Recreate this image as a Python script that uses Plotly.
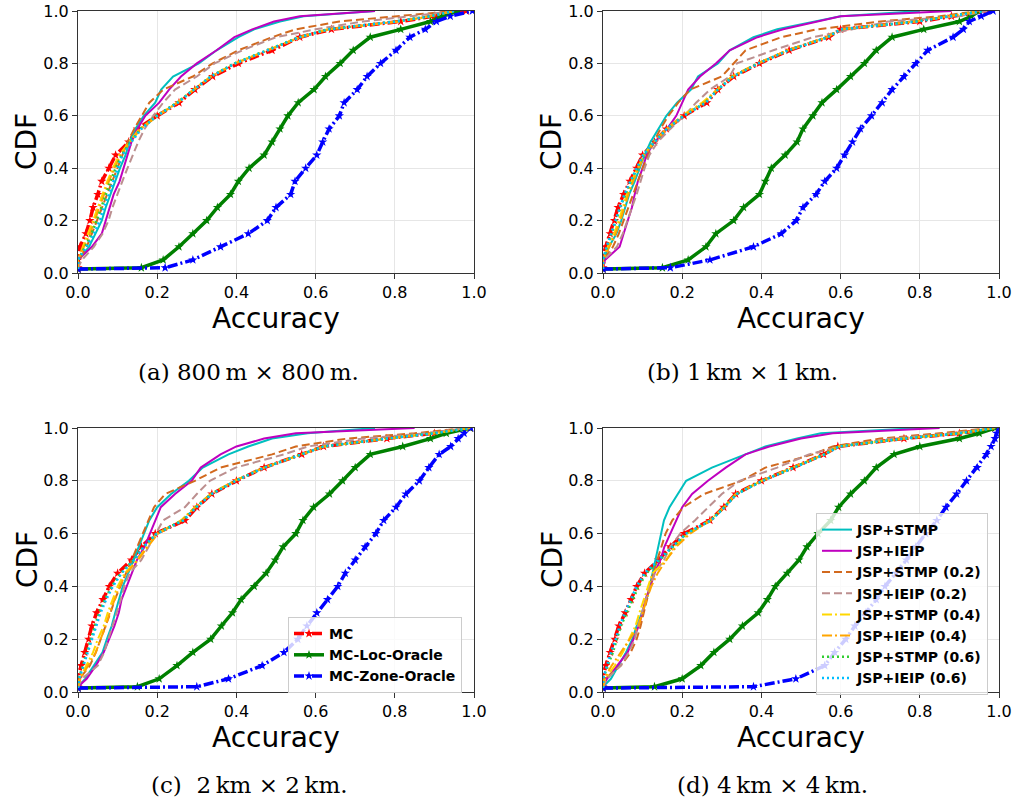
import plotly.graph_objects as go

# CDF levels (y values) shared by every curve
LEVELS = [0.015, 0.02, 0.05, 0.1, 0.15, 0.2, 0.25, 0.3, 0.35, 0.4, 0.45, 0.5, 0.55,
          0.6, 0.65, 0.7, 0.75, 0.8, 0.85, 0.9, 0.93, 0.96, 0.98, 1.0]

SERIES = ["MC", "MC-Loc-Oracle", "MC-Zone-Oracle", "JSP+STMP", "JSP+IEIP",
          "JSP+STMP (0.2)", "JSP+IEIP (0.2)", "JSP+STMP (0.4)", "JSP+IEIP (0.4)",
          "JSP+STMP (0.6)", "JSP+IEIP (0.6)"]

CAPTIONS = ["(a) 800\u2009m × 800\u2009m.", "(b) 1\u2009km × 1\u2009km.",
            "(c)\u00a0 2\u2009km × 2\u2009km.", "(d) 4\u2009km × 4\u2009km."]

TICKS = [0.0, 0.2, 0.4, 0.6, 0.8, 1.0]

# ---- panel (a): accuracy at each CDF level ----
A_MC = [0, 0, 0, 0.005, 0.02, 0.03, 0.038, 0.05, 0.06, 0.078, 0.095, 0.128, 0.15, 0.2, 0.255, 0.295, 0.34, 0.405, 0.49, 0.56, 0.64, 0.815, 0.9, 0.98]
A_LOC = [0, 0.16, 0.215, 0.255, 0.29, 0.325, 0.352, 0.385, 0.405, 0.432, 0.47, 0.49, 0.51, 0.53, 0.556, 0.596, 0.625, 0.662, 0.695, 0.738, 0.815, 0.89, 0.92, 0.96]
A_ZONE = [0, 0.22, 0.29, 0.36, 0.43, 0.478, 0.5, 0.537, 0.548, 0.575, 0.603, 0.618, 0.634, 0.66, 0.672, 0.705, 0.73, 0.764, 0.803, 0.838, 0.877, 0.905, 0.94, 0.996]
A_STMP = [0, 0, 0, 0.028, 0.045, 0.06, 0.07, 0.082, 0.094, 0.106, 0.12, 0.13, 0.145, 0.166, 0.195, 0.21, 0.24, 0.305, 0.35, 0.405, 0.445, 0.51, 0.57, 0.75]
A_IEIP = [0, 0, 0, 0.035, 0.06, 0.07, 0.08, 0.09, 0.105, 0.115, 0.125, 0.135, 0.15, 0.17, 0.205, 0.23, 0.26, 0.3, 0.35, 0.395, 0.44, 0.495, 0.56, 0.75]
A_STMP02 = [0, 0, 0.003, 0.022, 0.035, 0.048, 0.06, 0.072, 0.085, 0.098, 0.112, 0.125, 0.142, 0.16, 0.18, 0.215, 0.29, 0.34, 0.405, 0.49, 0.55, 0.66, 0.8, 0.95]
A_IEIP02 = [0, 0, 0.01, 0.04, 0.062, 0.077, 0.087, 0.099, 0.112, 0.125, 0.138, 0.152, 0.168, 0.19, 0.215, 0.245, 0.3, 0.345, 0.415, 0.5, 0.6, 0.72, 0.84, 0.95]
A_STMP04 = [0, 0, 0, 0.012, 0.026, 0.038, 0.05, 0.062, 0.074, 0.088, 0.104, 0.13, 0.155, 0.2, 0.25, 0.292, 0.335, 0.395, 0.48, 0.56, 0.63, 0.81, 0.89, 0.95]
A_IEIP04 = [0, 0, 0, 0.015, 0.03, 0.042, 0.054, 0.066, 0.078, 0.092, 0.108, 0.132, 0.158, 0.202, 0.252, 0.293, 0.337, 0.398, 0.482, 0.562, 0.635, 0.81, 0.89, 0.95]
A_STMP06 = [0, 0, 0, 0.018, 0.034, 0.047, 0.058, 0.07, 0.082, 0.095, 0.11, 0.133, 0.158, 0.198, 0.25, 0.292, 0.335, 0.395, 0.478, 0.558, 0.63, 0.8, 0.89, 0.95]
A_IEIP06 = [0, 0, 0, 0.022, 0.04, 0.055, 0.065, 0.078, 0.09, 0.1, 0.112, 0.135, 0.16, 0.2, 0.252, 0.293, 0.336, 0.397, 0.48, 0.56, 0.632, 0.805, 0.89, 0.95]

# ---- panel (b) ----
B_MC = [0, 0, 0, 0.007, 0.018, 0.029, 0.038, 0.052, 0.068, 0.085, 0.1, 0.13, 0.16, 0.205, 0.262, 0.29, 0.33, 0.395, 0.47, 0.57, 0.6, 0.8, 0.88, 0.97]
B_LOC = [0, 0.15, 0.215, 0.26, 0.285, 0.33, 0.355, 0.395, 0.41, 0.425, 0.46, 0.49, 0.505, 0.53, 0.553, 0.59, 0.625, 0.66, 0.69, 0.73, 0.81, 0.9, 0.93, 0.95]
B_ZONE = [0, 0.17, 0.27, 0.38, 0.45, 0.488, 0.505, 0.538, 0.56, 0.59, 0.61, 0.63, 0.65, 0.678, 0.705, 0.73, 0.76, 0.79, 0.82, 0.884, 0.91, 0.925, 0.955, 0.985]
B_STMP = [0, 0, 0, 0.015, 0.034, 0.046, 0.056, 0.066, 0.08, 0.092, 0.105, 0.12, 0.14, 0.16, 0.187, 0.222, 0.24, 0.29, 0.32, 0.38, 0.44, 0.54, 0.6, 0.8]
B_IEIP = [0, 0, 0.005, 0.042, 0.052, 0.062, 0.073, 0.08, 0.088, 0.1, 0.11, 0.13, 0.162, 0.185, 0.2, 0.215, 0.245, 0.285, 0.32, 0.39, 0.455, 0.54, 0.6, 0.88]
B_STMP02 = [0, 0, 0, 0.025, 0.04, 0.052, 0.064, 0.075, 0.087, 0.1, 0.114, 0.128, 0.145, 0.165, 0.19, 0.22, 0.3, 0.33, 0.36, 0.45, 0.54, 0.7, 0.85, 0.95]
B_IEIP02 = [0, 0, 0.002, 0.035, 0.05, 0.062, 0.075, 0.085, 0.095, 0.105, 0.117, 0.138, 0.17, 0.205, 0.235, 0.27, 0.32, 0.338, 0.43, 0.53, 0.63, 0.72, 0.9, 0.97]
B_STMP04 = [0, 0, 0, 0.012, 0.028, 0.04, 0.05, 0.06, 0.072, 0.088, 0.103, 0.128, 0.16, 0.2, 0.25, 0.288, 0.325, 0.39, 0.465, 0.565, 0.6, 0.79, 0.87, 0.96]
B_IEIP04 = [0, 0, 0, 0.016, 0.032, 0.044, 0.054, 0.064, 0.076, 0.09, 0.105, 0.13, 0.162, 0.203, 0.255, 0.29, 0.327, 0.392, 0.468, 0.567, 0.6, 0.79, 0.87, 0.96]
B_STMP06 = [0, 0, 0, 0.01, 0.022, 0.033, 0.043, 0.056, 0.07, 0.087, 0.102, 0.13, 0.161, 0.204, 0.258, 0.29, 0.328, 0.392, 0.468, 0.567, 0.6, 0.79, 0.87, 0.96]
B_IEIP06 = [0, 0, 0, 0.009, 0.02, 0.031, 0.041, 0.054, 0.069, 0.086, 0.101, 0.13, 0.161, 0.204, 0.26, 0.29, 0.329, 0.393, 0.469, 0.568, 0.6, 0.795, 0.875, 0.96]

# ---- panel (c) ----
C_MC = [0, 0, 0, 0.008, 0.017, 0.027, 0.035, 0.047, 0.063, 0.079, 0.1, 0.135, 0.16, 0.195, 0.27, 0.3, 0.338, 0.4, 0.47, 0.565, 0.62, 0.78, 0.9, 0.99]
C_LOC = [0, 0.15, 0.205, 0.25, 0.29, 0.335, 0.362, 0.39, 0.412, 0.445, 0.475, 0.498, 0.518, 0.55, 0.568, 0.595, 0.635, 0.668, 0.7, 0.738, 0.82, 0.89, 0.93, 0.99]
C_ZONE = [0, 0.3, 0.38, 0.465, 0.52, 0.555, 0.578, 0.603, 0.63, 0.656, 0.675, 0.7, 0.725, 0.752, 0.772, 0.803, 0.828, 0.862, 0.886, 0.912, 0.941, 0.96, 0.975, 0.992]
C_STMP = [0, 0, 0.018, 0.04, 0.062, 0.073, 0.085, 0.094, 0.104, 0.113, 0.127, 0.14, 0.154, 0.166, 0.18, 0.2, 0.235, 0.28, 0.315, 0.38, 0.43, 0.49, 0.58, 0.75]
C_IEIP = [0, 0, 0.022, 0.045, 0.065, 0.079, 0.092, 0.103, 0.11, 0.123, 0.136, 0.149, 0.168, 0.182, 0.195, 0.209, 0.245, 0.287, 0.31, 0.36, 0.4, 0.47, 0.55, 0.85]
C_STMP02 = [0, 0, 0.004, 0.03, 0.045, 0.058, 0.07, 0.082, 0.093, 0.107, 0.12, 0.135, 0.15, 0.163, 0.178, 0.192, 0.22, 0.295, 0.36, 0.49, 0.55, 0.68, 0.85, 0.98]
C_IEIP02 = [0, 0, 0.01, 0.05, 0.066, 0.077, 0.087, 0.098, 0.108, 0.117, 0.13, 0.16, 0.178, 0.195, 0.215, 0.27, 0.3, 0.333, 0.398, 0.52, 0.58, 0.72, 0.88, 0.98]
C_STMP04 = [0, 0, 0.004, 0.02, 0.038, 0.05, 0.065, 0.075, 0.087, 0.1, 0.118, 0.149, 0.174, 0.2, 0.26, 0.295, 0.335, 0.395, 0.47, 0.565, 0.62, 0.78, 0.9, 0.99]
C_IEIP04 = [0, 0, 0.006, 0.025, 0.045, 0.057, 0.07, 0.08, 0.092, 0.105, 0.122, 0.152, 0.176, 0.202, 0.262, 0.296, 0.336, 0.396, 0.47, 0.566, 0.62, 0.78, 0.9, 0.99]
C_STMP06 = [0, 0, 0.002, 0.012, 0.022, 0.032, 0.042, 0.053, 0.068, 0.085, 0.108, 0.14, 0.165, 0.198, 0.265, 0.298, 0.337, 0.398, 0.47, 0.566, 0.62, 0.78, 0.9, 0.99]
C_IEIP06 = [0, 0, 0.003, 0.014, 0.025, 0.036, 0.046, 0.057, 0.071, 0.088, 0.11, 0.142, 0.166, 0.199, 0.266, 0.299, 0.338, 0.399, 0.471, 0.567, 0.62, 0.78, 0.9, 0.99]

# ---- panel (d) ----
D_MC = [0, 0, 0, 0.007, 0.018, 0.03, 0.04, 0.056, 0.071, 0.085, 0.105, 0.14, 0.17, 0.205, 0.27, 0.305, 0.335, 0.4, 0.48, 0.557, 0.593, 0.76, 0.9, 0.99]
D_LOC = [0, 0.13, 0.2, 0.247, 0.28, 0.32, 0.352, 0.392, 0.415, 0.435, 0.465, 0.495, 0.515, 0.543, 0.575, 0.595, 0.625, 0.66, 0.69, 0.735, 0.8, 0.9, 0.95, 0.99]
D_ZONE = [0, 0.38, 0.487, 0.56, 0.585, 0.613, 0.636, 0.664, 0.69, 0.712, 0.74, 0.766, 0.79, 0.815, 0.843, 0.866, 0.893, 0.918, 0.945, 0.968, 0.98, 0.99, 0.994, 1.0]
D_STMP = [0, 0, 0.02, 0.04, 0.058, 0.074, 0.085, 0.098, 0.11, 0.118, 0.125, 0.133, 0.14, 0.147, 0.154, 0.168, 0.19, 0.21, 0.275, 0.36, 0.41, 0.49, 0.55, 0.8]
D_IEIP = [0, 0, 0.01, 0.035, 0.062, 0.077, 0.09, 0.1, 0.107, 0.12, 0.13, 0.145, 0.155, 0.17, 0.185, 0.2, 0.225, 0.265, 0.31, 0.36, 0.42, 0.5, 0.58, 0.85]
D_STMP02 = [0, 0, 0.005, 0.045, 0.07, 0.085, 0.095, 0.103, 0.112, 0.12, 0.127, 0.137, 0.148, 0.158, 0.175, 0.203, 0.255, 0.35, 0.41, 0.53, 0.58, 0.7, 0.85, 0.98]
D_IEIP02 = [0, 0, 0.01, 0.045, 0.065, 0.08, 0.088, 0.098, 0.108, 0.118, 0.131, 0.154, 0.17, 0.195, 0.232, 0.265, 0.3, 0.345, 0.44, 0.52, 0.6, 0.73, 0.88, 0.99]
D_STMP04 = [0, 0, 0.005, 0.03, 0.05, 0.065, 0.082, 0.092, 0.103, 0.113, 0.125, 0.16, 0.18, 0.215, 0.27, 0.305, 0.335, 0.4, 0.48, 0.557, 0.593, 0.76, 0.9, 0.99]
D_IEIP04 = [0, 0, 0.003, 0.022, 0.045, 0.068, 0.09, 0.1, 0.11, 0.122, 0.138, 0.16, 0.185, 0.22, 0.272, 0.306, 0.336, 0.401, 0.481, 0.558, 0.594, 0.76, 0.9, 0.99]
D_STMP06 = [0, 0, 0, 0.012, 0.025, 0.035, 0.045, 0.06, 0.075, 0.09, 0.11, 0.143, 0.175, 0.21, 0.272, 0.306, 0.337, 0.402, 0.482, 0.559, 0.595, 0.76, 0.9, 0.99]
D_IEIP06 = [0, 0, 0, 0.01, 0.02, 0.032, 0.042, 0.055, 0.07, 0.085, 0.105, 0.14, 0.175, 0.21, 0.273, 0.307, 0.338, 0.403, 0.483, 0.56, 0.596, 0.76, 0.9, 0.99]

PANELS = [
    [A_MC, A_LOC, A_ZONE, A_STMP, A_IEIP, A_STMP02, A_IEIP02, A_STMP04, A_IEIP04, A_STMP06, A_IEIP06],
    [B_MC, B_LOC, B_ZONE, B_STMP, B_IEIP, B_STMP02, B_IEIP02, B_STMP04, B_IEIP04, B_STMP06, B_IEIP06],
    [C_MC, C_LOC, C_ZONE, C_STMP, C_IEIP, C_STMP02, C_IEIP02, C_STMP04, C_IEIP04, C_STMP06, C_IEIP06],
    [D_MC, D_LOC, D_ZONE, D_STMP, D_IEIP, D_STMP02, D_IEIP02, D_STMP04, D_IEIP04, D_STMP06, D_IEIP06],
]

# ---- styles (not data) ----
DASHDOT = "10px,3px,2px,3px"
DASH = "8px,4px"
DOT = "2px,3px"
STYLE = {
    "MC": dict(color="#ff0000", dash=DASHDOT, width=3.5, marker=True),
    "MC-Loc-Oracle": dict(color="#008000", dash="solid", width=3.5, marker=True),
    "MC-Zone-Oracle": dict(color="#0000ff", dash=DASHDOT, width=3.5, marker=True),
    "JSP+STMP": dict(color="#00bfbf", dash="solid", width=2, marker=False),
    "JSP+IEIP": dict(color="#bf00bf", dash="solid", width=2, marker=False),
    "JSP+STMP (0.2)": dict(color="#d2691e", dash=DASH, width=2, marker=False),
    "JSP+IEIP (0.2)": dict(color="#bc8f8f", dash=DASH, width=2, marker=False),
    "JSP+STMP (0.4)": dict(color="#ffd700", dash=DASHDOT, width=2, marker=False),
    "JSP+IEIP (0.4)": dict(color="#ffa500", dash=DASHDOT, width=2, marker=False),
    "JSP+STMP (0.6)": dict(color="#32cd32", dash=DOT, width=2.5, marker=False),
    "JSP+IEIP (0.6)": dict(color="#00bfff", dash=DOT, width=2.5, marker=False),
}

W, H = 1013, 805


def px(x):  # window pixel -> paper x
    return x / W


def py(y):  # window pixel -> paper y
    return 1 - y / H


# pixel boxes of the four plot areas: (left, right, top, bottom)
BOXES = [(78, 474, 11, 273), (603, 999, 11, 273), (78, 474, 428, 692), (603, 999, 428, 692)]

fig = go.Figure()

for p, curves in enumerate(PANELS):
    sfx = "" if p == 0 else str(p + 1)
    for name, xs in zip(SERIES, curves):
        st = STYLE[name]
        is_mc = name.startswith("MC")
        show = (p == 2 and is_mc) or (p == 3 and not is_mc)
        fig.add_trace(go.Scatter(
            x=xs, y=LEVELS, name=name,
            xaxis="x" + sfx, yaxis="y" + sfx,
            mode="lines+markers" if st["marker"] else "lines",
            line=dict(color=st["color"], dash=st["dash"], width=st["width"]),
            marker=dict(symbol="star", size=7, color=st["color"]) if st["marker"] else None,
            showlegend=show,
            legend="legend" if is_mc else "legend2",
            hoverinfo="skip",
        ))

axis_common = dict(
    range=[0, 1], tickvals=TICKS, tickformat=".1f",
    tickfont=dict(family="DejaVu Sans", size=16, color="black"),
    showgrid=True, gridcolor="#e6e6e6", gridwidth=1,
    showline=True, linecolor="#333333", linewidth=1.2, mirror=True,
    ticks="outside", ticklen=5, tickcolor="#333333", tickwidth=1,
    zeroline=False, fixedrange=True, automargin=False,
)

layout = dict(
    template="none",
    width=W, height=H, margin=dict(l=0, r=0, t=0, b=0, autoexpand=False),
    paper_bgcolor="white", plot_bgcolor="white",
)
annotations = []
for p, (l, r, t, b) in enumerate(BOXES):
    sfx = "" if p == 0 else str(p + 1)
    layout["xaxis" + sfx] = dict(axis_common, domain=[px(l), px(r)], anchor="y" + sfx)
    layout["yaxis" + sfx] = dict(axis_common, domain=[py(b), py(t)], anchor="x" + sfx)
    cx = (l + r) / 2
    cy = (t + b) / 2
    annotations.append(dict(text="CDF", x=px(l - 51), y=py(cy), xref="paper", yref="paper",
                            showarrow=False, textangle=-90, xanchor="center", yanchor="middle",
                            font=dict(family="DejaVu Sans", size=28, color="black")))
    annotations.append(dict(text="Accuracy", x=px(cx), y=py(b + 45), xref="paper", yref="paper",
                            showarrow=False, xanchor="center", yanchor="middle",
                            font=dict(family="DejaVu Sans", size=28, color="black")))

CAP_POS = [(248, 372), (742, 372), (249, 785), (772, 785)]
for cap, (x, y) in zip(CAPTIONS, CAP_POS):
    annotations.append(dict(text=cap, x=px(x), y=py(y), xref="paper", yref="paper",
                            showarrow=False, xanchor="center", yanchor="middle",
                            font=dict(family="DejaVu Serif", size=23, color="black")))

legend_common = dict(
    xanchor="left", yanchor="top",
    bgcolor="rgba(255,255,255,0.8)", bordercolor="#cccccc", borderwidth=1,
    font=dict(family="DejaVu Sans", size=14, color="black", weight="bold"),
    itemwidth=30, tracegroupgap=0,
)
layout["legend"] = dict(legend_common, x=px(288), y=py(617))
layout["legend2"] = dict(legend_common, x=px(816), y=py(513))
layout["annotations"] = annotations

fig.update_layout(**layout)
# remove the browser's default page margin so the figure fills the window exactly
fig.write_html("out.html",
               config={"displayModeBar": False},
               post_script="document.body.style.margin='0px';document.body.style.overflow='hidden';")
